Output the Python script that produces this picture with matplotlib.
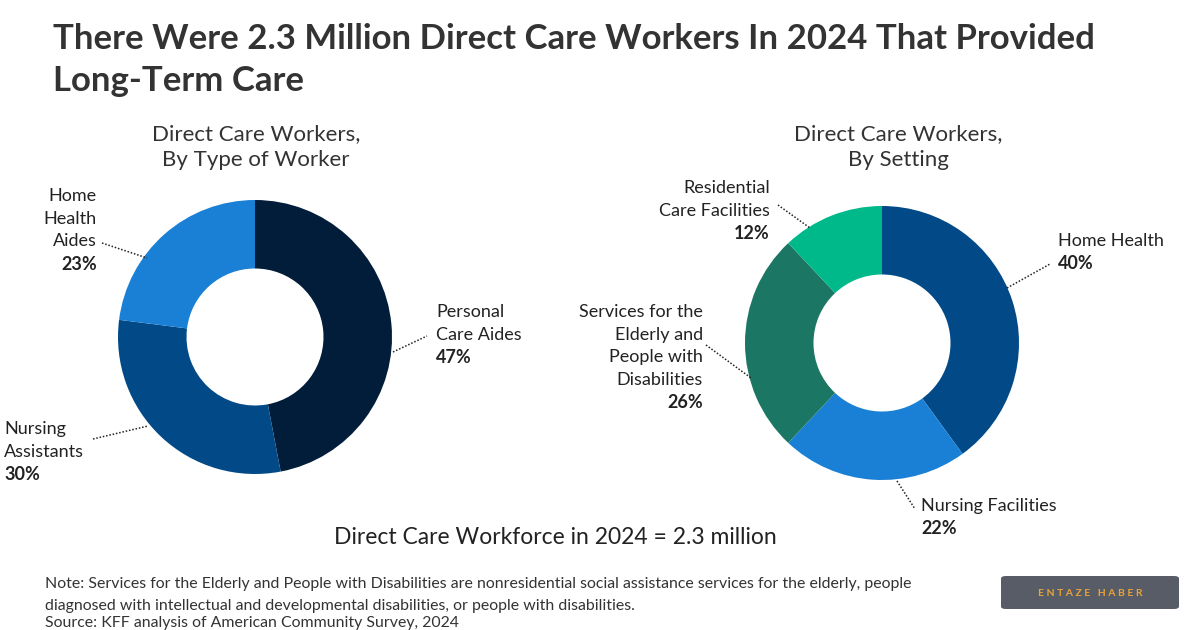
import matplotlib
matplotlib.use("Agg")
import matplotlib.pyplot as plt
from matplotlib.patches import FancyBboxPatch

plt.rcParams['font.family'] = ['Lato', 'DejaVu Sans']

W, H = 1200, 630

# data
type_labels = ['Personal\nCare Aides', 'Nursing\nAssistants', 'Home\nHealth\nAides']
type_values = [47, 30, 23]
type_colors = ['#021d3a', '#014a87', '#1a80d6']

setting_labels = ['Home Health', 'Nursing Facilities',
                  'Services for the\nElderly and\nPeople with\nDisabilities',
                  'Residential\nCare Facilities']
setting_values = [40, 22, 26, 12]
setting_colors = ['#014a87', '#1a80d6', '#1b7763', '#00b98a']

title = "There Were 2.3 Million Direct Care Workers In 2024 That Provided\nLong-Term Care"
total_text = "Direct Care Workforce in 2024 = 2.3 million"
note = ("Note: Services for the Elderly and People with Disabilities are nonresidential social assistance services for the elderly, people\n"
        "diagnosed with intellectual and developmental disabilities, or people with disabilities.")
source = "Source: KFF analysis of American Community Survey, 2024"


def fx(x):
    return x / W


def fy(y):
    return 1 - y / H


fig = plt.figure(figsize=(12, 6.3), dpi=100)
fig.patch.set_facecolor('white')

fig.text(fx(53), fy(60), title, fontsize=25, fontweight='bold', color='#333333',
         va='center', ha='left', linespacing=1.4)


def donut(cx, cy, r, values, colors):
    ax = fig.add_axes([fx(cx - r), fy(cy + r), 2 * r / W, 2 * r / H])
    ax.pie(values, colors=colors, startangle=90, counterclock=False,
           radius=1, wedgeprops=dict(width=0.5, edgecolor='none'))
    ax.set_xlim(-1, 1)
    ax.set_ylim(-1, 1)
    ax.set_aspect('equal')
    ax.axis('off')
    return ax


donut(255, 337, 137, type_values, type_colors)
donut(882, 343, 137, setting_values, setting_colors)

# subtitles
for cx, txt in [(256, "Direct Care Workers,\nBy Type of Worker"),
                (898, "Direct Care Workers,\nBy Setting")]:
    fig.text(fx(cx), fy(147), txt, fontsize=16, color='#333333', ha='center',
             va='center', linespacing=1.4)

LH = 22.7


def label(x, y0, name, value, ha, line):
    lines = name.split('\n')
    for i, s in enumerate(lines):
        fig.text(fx(x), fy(y0 + i * LH), s, fontsize=13, color='#222222', ha=ha, va='center')
    fig.text(fx(x), fy(y0 + len(lines) * LH), f"{value}%", fontsize=13, color='#222222',
             ha=ha, va='center', fontweight='bold')
    (x1, y1), (x2, y2) = line
    fig.lines.append(plt.Line2D([fx(x1), fx(x2)], [fy(y1), fy(y2)], transform=fig.transFigure,
                                color='#222222', lw=1.1, ls=(0, (1, 1.2))))


# left chart labels
label(436, 312, type_labels[0], type_values[0], 'left', ((393, 352), (427, 336)))
label(4, 429, type_labels[1], type_values[1], 'left', ((93, 439), (148, 426)))
label(97, 196, type_labels[2], type_values[2], 'right', ((102, 243), (147, 258)))

# right chart labels
label(1058, 241, setting_labels[0], setting_values[0], 'left', ((1007, 288), (1050, 264)))
label(921, 506, setting_labels[1], setting_values[1], 'left', ((897, 481), (915, 509)))
label(703, 312, setting_labels[2], setting_values[2], 'right', ((706, 345), (751, 378)))
label(770, 188, setting_labels[3], setting_values[3], 'right', ((778, 205), (810, 228)))

fig.text(fx(555), fy(537), total_text, fontsize=16.5, color='#222222', ha='center', va='center')

fig.text(fx(45), fy(595), note, fontsize=11.4, color='#333333', ha='left', va='center',
         linespacing=1.7)
fig.text(fx(45), fy(630), source, fontsize=11.4, color='#333333', ha='left', va='bottom')

# watermark badge
badge = FancyBboxPatch((fx(1001), fy(609)), fx(178), 33 / H,
                       boxstyle="round,pad=0,rounding_size=0.004",
                       transform=fig.transFigure, facecolor='#585c66', edgecolor='none')
fig.patches.append(badge)
fig.text(fx(1090), fy(593), "E N T A Z E   H A B E R", fontsize=7.5, color='#e8a33a',
         ha='center', va='center', fontweight='bold')

fig.savefig('out.png', dpi=100)
